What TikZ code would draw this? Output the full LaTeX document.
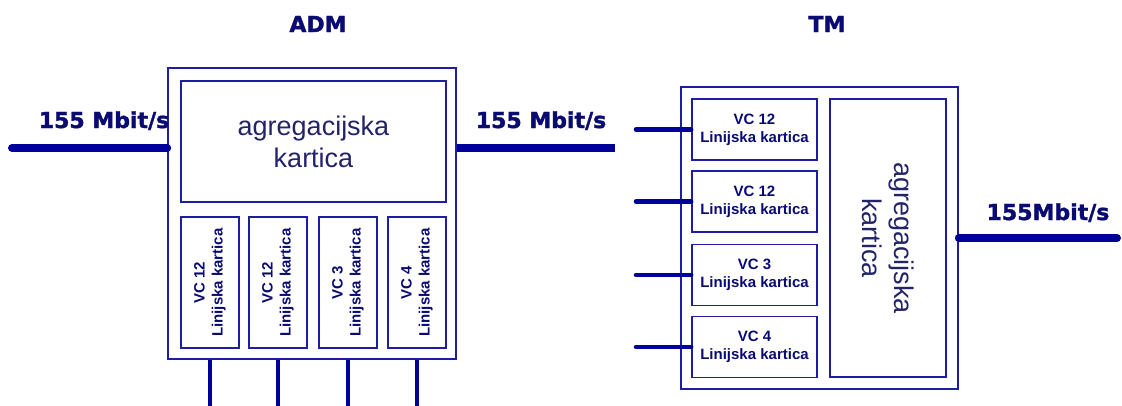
\documentclass[tikz,border=0pt]{standalone}
\usepackage{fontspec}
\setmainfont{Liberation Sans}
\newfontfamily\heavyfont{DejaVu Sans}[BoldFeatures={FakeBold=1.6}]
\definecolor{wireblue}{RGB}{0,0,155}
\definecolor{boxblue}{RGB}{30,30,165}
\definecolor{textnavy}{RGB}{10,10,115}
\definecolor{aggtext}{RGB}{35,35,105}
\tikzset{
  frame/.style={draw=boxblue, line width=1.6pt, inner sep=0pt},
  aggcard/.style={frame, text=aggtext, align=center,
    font=\fontsize{27}{32}\selectfont},
  linecard/.style={frame, text=textnavy, align=center,
    font=\bfseries\fontsize{15}{18}\selectfont},
  trunk/.style={draw=wireblue, line width=8pt},
  tributary/.style={draw=wireblue, line width=4.5pt},
  ratelabel/.style={text=textnavy, anchor=base,
    font=\heavyfont\bfseries\fontsize{22}{26}\selectfont},
}
\newcommand{\admCard}[3]{
    \node[linecard, rotate=90, minimum width=131pt, minimum height=58pt]
        (#1) at (#2,282.5) {#3\\Linijska kartica};
}
\newcommand{\tmCard}[3]{
    \node[linecard, minimum width=125pt, minimum height=61pt]
        (#1) at (754.5,#2) {#3\\Linijska kartica};
}
\begin{document}
\begin{tikzpicture}[x=1pt, y=-1pt]
\useasboundingbox (0,0) rectangle (1122,405);

% ADM
\node[ratelabel] (admtitle) at (318,32) {ADM};
\node[frame, minimum width=288pt, minimum height=291pt] (adm) at (312,213.5) {};
\node[aggcard, minimum width=265pt, minimum height=121pt] (admagg) at (313.5,141.5)
    {agregacijska\\kartica};
\admCard{a1}{210}{VC 12}
\admCard{a2}{278}{VC 12}
\admCard{a3}{348}{VC 3}
\admCard{a4}{417}{VC 4}

\coordinate (admin) at (12,148);
\coordinate (admout) at (615,148);
\draw[trunk, line cap=round] (admin) -- (admin -| adm.west);
\draw[trunk] (admout -| adm.east) -- (admout);
\node[ratelabel] (admrate1) at (104,128) {155 Mbit/s};
\node[ratelabel] (admrate2) at (541,128) {155 Mbit/s};

% tributaries below ADM
\draw[tributary] (a1.center |- adm.south) -- ++(0,46);
\draw[tributary] (a2.center |- adm.south) -- ++(0,46);
\draw[tributary] (a3.center |- adm.south) -- ++(0,46);
\draw[tributary] (a4.center |- adm.south) -- ++(0,46);

% TM
\node[ratelabel] (tmtitle) at (827,32) {TM};
\node[frame, minimum width=277pt, minimum height=302pt] (tm) at (819.5,238) {};
\node[aggcard, rotate=-90, minimum width=278pt, minimum height=116pt] (tmagg) at (888,238)
    {agregacijska\\kartica};
\tmCard{t1}{129.5}{VC 12}
\tmCard{t2}{201.5}{VC 12}
\tmCard{t3}{275}{VC 3}
\tmCard{t4}{347}{VC 4}

\coordinate (tmin1) at (636,0);
\draw[tributary, line cap=round] (tmin1 |- t1.center) -- (t1.west);
\draw[tributary, line cap=round] (tmin1 |- t2.center) -- (t2.west);
\draw[tributary, line cap=round] (tmin1 |- t3.center) -- (t3.west);
\draw[tributary, line cap=round] (tmin1 |- t4.center) -- (t4.west);

\coordinate (tmout) at (1117,238);
\draw[trunk, line cap=round] (tm.east) -- (tmout);
\node[ratelabel] (tmrate) at (1048,220) {155Mbit/s};

\end{tikzpicture}
\end{document}
